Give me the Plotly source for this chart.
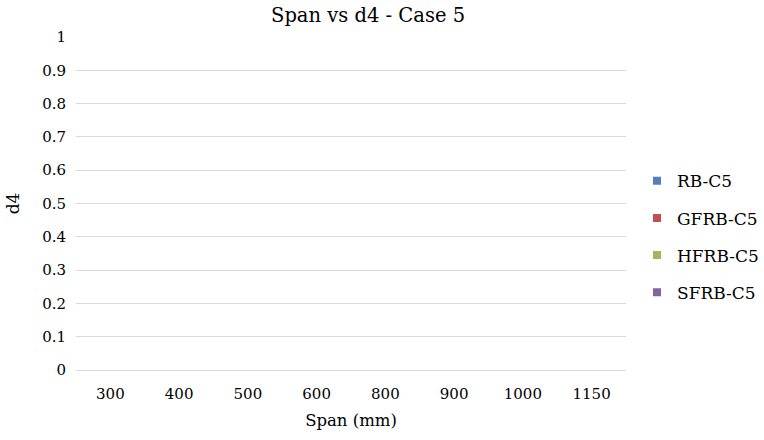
import plotly.graph_objects as go

categories = ["300", "400", "500", "600", "800", "900", "1000", "1150"]
rb_c5 = [0, 0, 0, 0, 0, 0, 0, 0]
gfrb_c5 = [0, 0, 0, 0, 0, 0, 0, 0]
hfrb_c5 = [0, 0, 0, 0, 0, 0, 0, 0]
sfrb_c5 = [0, 0, 0, 0, 0, 0, 0, 0]
series_names = ["RB-C5", "GFRB-C5", "HFRB-C5", "SFRB-C5"]
colors = ["#4F81BD", "#C0504D", "#9BBB59", "#8064A2"]
y_ticks = [0, 0.1, 0.2, 0.3, 0.4, 0.5, 0.6, 0.7, 0.8, 0.9, 1]

FONT = "DejaVu Serif"

fig = go.Figure()
for name, vals, col in zip(series_names, [rb_c5, gfrb_c5, hfrb_c5, sfrb_c5], colors):
    fig.add_trace(go.Bar(x=categories, y=vals, name=name, marker=dict(color=col, line=dict(width=0)),
                         showlegend=False))
for name, col in zip(series_names, colors):
    fig.add_trace(go.Scatter(x=[None], y=[None], mode="markers", name=name, legendgroup=name,
                             marker=dict(symbol="square", size=8, color=col)))

fig.update_layout(
    width=764, height=440,
    margin=dict(l=76, r=138, t=37, b=70, autoexpand=False),
    paper_bgcolor="white", plot_bgcolor="white",
    font=dict(family=FONT, size=15.5, color="#000000"),
    title=dict(text="Span vs d4 - Case 5", x=0.531, xref="paper", xanchor="center",
               y=1 - 15 / 440, yref="container", yanchor="middle",
               font=dict(family=FONT, size=19.5, color="#000000")),
    barmode="group",
    legend=dict(x=1.02, xref="paper", xanchor="left", y=0.40, yanchor="middle",
                font=dict(family=FONT, size=17, color="#000000"),
                tracegroupgap=12, itemwidth=30, bgcolor="rgba(0,0,0,0)"),
    xaxis=dict(type="category", categoryorder="array", categoryarray=categories,
               showgrid=False, showline=False, zeroline=False, ticks="",
               ticklabelstandoff=13,
               title=dict(text="Span (mm)", font=dict(family=FONT, size=16.5), standoff=12),
               tickfont=dict(family=FONT, size=15)),
    yaxis=dict(range=[0, 1], tickvals=y_ticks, ticktext=[f"{v:g}" for v in y_ticks],
               showgrid=True, gridcolor="#D9D9D9", gridwidth=1,
               zeroline=True, zerolinecolor="#D9D9D9", zerolinewidth=1,
               showline=False, ticks="", ticklabelstandoff=9,
               title=dict(text="d4", font=dict(family=FONT, size=17), standoff=18),
               tickfont=dict(family=FONT, size=15)),
)

fig.write_html("out.html")
